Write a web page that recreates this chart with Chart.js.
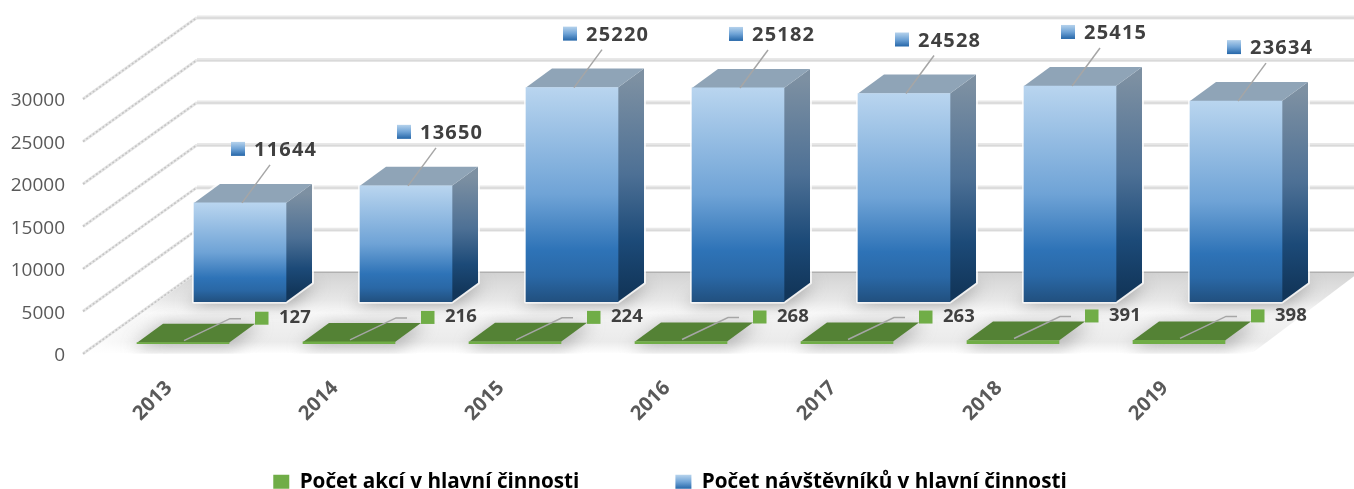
<!DOCTYPE html>
<html><head><meta charset="utf-8">
<style>html,body{margin:0;padding:0;background:#fff}canvas{display:block}</style>
<script src="https://cdn.jsdelivr.net/npm/chart.js@4/dist/chart.umd.min.js"></script>
</head><body>
<canvas id="c" width="1354" height="489"></canvas>
<script>
const years = [2013, 2014, 2015, 2016, 2017, 2018, 2019];
const visitors = [11644, 13650, 25220, 25182, 24528, 25415, 23634];
const events = [127, 216, 224, 268, 263, 391, 398];
const yTicks = [0, 5000, 10000, 15000, 20000, 25000, 30000];
const seriesEvents = 'Počet akcí v hlavní činnosti';
const seriesVisitors = 'Počet návštěvníků v hlavní činnosti';

const W = 1354, H = 489, LEFT = 83, AREA_BOTTOM = 374;
const STEP = 166, K = 254.5 / 30000;
const DX = 26, DY = -19, BACK_DX = 114, BACK_DY = -81.5;
const FONT = '"Open Sans", sans-serif';

const xRange = px0 => ({ min: 2013 - (px0 - LEFT) / STEP, max: 2013 + (W - px0) / STEP });
const yRange = zero => ({ min: -(AREA_BOTTOM - zero) / K, max: zero / K });

function poly(ctx, pts) {
  ctx.beginPath();
  pts.forEach((p, i) => i ? ctx.lineTo(p[0], p[1]) : ctx.moveTo(p[0], p[1]));
  ctx.closePath();
}
function grad(ctx, x0, y0, x1, y1, stops) {
  const g = ctx.createLinearGradient(x0, y0, x1, y1);
  stops.forEach(s => g.addColorStop(s[0], s[1]));
  return g;
}
const FRONT_STOPS = [[0, '#b9d5ef'], [0.5, '#6fa3d6'], [0.76, '#2e73b7'], [0.88, '#2a68a6'], [1, '#21507f']];
const SIDE_STOPS = [[0, '#7d90a2'], [0.45, '#4d7095'], [0.76, '#1c4a78'], [1, '#12365a']];

const scene = {
  id: 'scene3d',
  afterLayout(chart) {
    const x = chart.scales.x;
    x.bottom = H; x.height = H - x.top;
    chart.legend.left -= 7; chart.legend.right -= 7;
    chart.legend.top += 1; chart.legend.bottom += 1;
  },
  beforeDatasetsDraw(chart) {
    const ctx = chart.ctx, y = chart.scales.y;
    const blue = chart.getDatasetMeta(1).data, green = chart.getDatasetMeta(0).data;
    ctx.save();
    // walls
    yTicks.forEach(v => {
      const py = y.getPixelForValue(v);
      ctx.lineCap = 'butt';
      ctx.setLineDash([]);
      ctx.strokeStyle = '#e6e6e6'; ctx.lineWidth = 3;
      ctx.beginPath(); ctx.moveTo(LEFT, py); ctx.lineTo(LEFT + BACK_DX, py + BACK_DY); ctx.stroke();
      ctx.strokeStyle = '#c4c4c4'; ctx.lineWidth = 1.6; ctx.setLineDash([2, 2]);
      ctx.beginPath(); ctx.moveTo(LEFT, py); ctx.lineTo(LEFT + BACK_DX, py + BACK_DY); ctx.stroke();
      ctx.setLineDash([]);
      if (v !== 0) {
        ctx.strokeStyle = '#e8e8e8'; ctx.lineWidth = 4;
        ctx.beginPath(); ctx.moveTo(LEFT + BACK_DX, py + BACK_DY); ctx.lineTo(W, py + BACK_DY); ctx.stroke();
        ctx.strokeStyle = '#d9d9d9'; ctx.lineWidth = 1.5;
        ctx.beginPath(); ctx.moveTo(LEFT + BACK_DX, py + BACK_DY + 0.5); ctx.lineTo(W, py + BACK_DY + 0.5); ctx.stroke();
      }
    });
    // floor
    const y0 = y.getPixelForValue(0), yb = y0 + BACK_DY;
    ctx.save();
    poly(ctx, [[LEFT + 3, y0], [LEFT + BACK_DX + 2, yb], [W, yb], [W, yb + 4], [W - 100, y0 - 2], [W - 110, y0]]);
    ctx.clip();
    ctx.fillStyle = grad(ctx, 0, yb, 0, y0, [[0, '#d2d2d2'], [0.15, '#dcdcdc'], [0.35, '#e8e8e8'], [0.5, '#f8f8f8'], [0.62, '#f0f0f0'], [0.85, '#ebebeb'], [1, '#ffffff']]);
    ctx.fillRect(0, yb, W, y0 - yb);
    ctx.fillStyle = grad(ctx, LEFT, 0, LEFT + 90, 0, [[0, 'rgba(255,255,255,1)'], [1, 'rgba(255,255,255,0)']]);
    ctx.fillRect(LEFT, yb, 90, y0 - yb);
    ctx.filter = 'blur(8px)';
    ctx.fillStyle = 'rgba(120,120,120,0.6)';
    blue.forEach(b => {
      const p = b.getProps(['x', 'base', 'width'], true), l = p.x - p.width / 2, r = p.x + p.width / 2;
      poly(ctx, [[l - 8, p.base + 3], [r + 4, p.base + 3], [r + DX + 6, p.base + DY], [l + DX, p.base + DY]]);
      ctx.fill();
    });
    ctx.fillStyle = 'rgba(130,130,130,0.5)';
    green.forEach(b => {
      const p = b.getProps(['x', 'base', 'width'], true), l = p.x - p.width / 2, r = p.x + p.width / 2;
      poly(ctx, [[l - 4, p.base + 4], [r + 4, p.base + 4], [r + DX + 6, p.base + DY], [l + DX, p.base + DY]]);
      ctx.fill();
    });
    ctx.filter = 'none';
    ctx.restore();
    ctx.strokeStyle = '#b0b0b0'; ctx.lineWidth = 1.5;
    ctx.beginPath(); ctx.moveTo(LEFT + BACK_DX, yb); ctx.lineTo(W, yb); ctx.stroke();
    // blue bars: glow, side and top
    blue.forEach(b => {
      const p = b.getProps(['x', 'y', 'base', 'width'], true), l = p.x - p.width / 2, r = p.x + p.width / 2;
      ctx.strokeStyle = 'rgba(255,255,255,0.75)'; ctx.lineWidth = 4; ctx.lineJoin = 'round';
      poly(ctx, [[l, p.y], [l + DX, p.y + DY], [r + DX, p.y + DY], [r + DX, p.base + DY], [r, p.base], [l, p.base]]);
      ctx.stroke();
      ctx.fillStyle = grad(ctx, 0, p.y + DY / 2, 0, p.base + DY / 2, SIDE_STOPS);
      poly(ctx, [[r, p.y], [r + DX, p.y + DY], [r + DX, p.base + DY], [r, p.base]]);
      ctx.fill();
      ctx.fillStyle = '#8fa4b7';
      poly(ctx, [[l, p.y], [l + DX, p.y + DY], [r + DX, p.y + DY], [r, p.y]]);
      ctx.fill();
    });
    // green bars: top face
    green.forEach(b => {
      const p = b.getProps(['x', 'y', 'width'], true), l = p.x - p.width / 2, r = p.x + p.width / 2;
      ctx.fillStyle = '#548235';
      poly(ctx, [[l, p.y], [l + DX, p.y + DY], [r + DX, p.y + DY], [r, p.y]]);
      ctx.fill();
    });
    ctx.restore();
  },
  afterDatasetsDraw(chart) {
    const ctx = chart.ctx;
    ctx.save();
    ctx.font = 'bold 20px ' + FONT;
    ctx.textBaseline = 'middle';
    ctx.textAlign = 'left';
    ctx.letterSpacing = '1.2px';
    chart.getDatasetMeta(1).data.forEach((b, i) => {
      const p = b.getProps(['x', 'y'], true);
      ctx.strokeStyle = '#a6a6a6'; ctx.lineWidth = 1.5;
      ctx.beginPath(); ctx.moveTo(p.x + 2, p.y); ctx.lineTo(p.x + 30, p.y - 38); ctx.stroke();
      const ky = p.y - 61;
      ctx.fillStyle = grad(ctx, 0, ky, 0, ky + 14, [[0, '#b5d2ec'], [0.5, '#6fa3d6'], [1, '#2566a8']]);
      ctx.fillRect(p.x - 9, ky, 14, 14);
      ctx.fillStyle = '#404040';
      ctx.fillText(String(visitors[i]), p.x + 14, p.y - 52.5);
    });
    ctx.font = 'bold 18.5px ' + FONT;
    ctx.letterSpacing = '0px';
    chart.getDatasetMeta(0).data.forEach((b, i) => {
      const p = b.getProps(['x', 'y'], true);
      ctx.strokeStyle = '#a6a6a6'; ctx.lineWidth = 1.5;
      ctx.beginPath(); ctx.moveTo(p.x + 1, p.y - 2); ctx.lineTo(p.x + 47, p.y - 24); ctx.lineTo(p.x + 58, p.y - 24); ctx.stroke();
      ctx.fillStyle = '#70ad47';
      ctx.fillRect(p.x + 72, p.y - 31, 13.5, 13);
      ctx.fillStyle = '#404040';
      ctx.fillText(String(events[i]), p.x + 96, p.y - 25);
    });
    ctx.restore();
  }
};

new Chart(document.getElementById('c'), {
  type: 'bar',
  data: {
    datasets: [
      {
        label: seriesEvents,
        data: years.map((yr, i) => ({ x: yr, y: events[i] })),
        xAxisID: 'xG', yAxisID: 'yG',
        backgroundColor: '#70ad47', borderWidth: 0,
        barThickness: 92, grouped: false
      },
      {
        label: seriesVisitors,
        data: years.map((yr, i) => ({ x: yr, y: visitors[i] })),
        xAxisID: 'xB', yAxisID: 'yB',
        backgroundColor: c => {
          if (!c.raw) return '#2e73b7';
          const top = c.chart.scales.yB.getPixelForValue(c.raw.y), base = c.chart.scales.yB.getPixelForValue(0);
          return grad(c.chart.ctx, 0, top, 0, base, FRONT_STOPS);
        },
        borderWidth: 0,
        barThickness: 92, grouped: false
      }
    ]
  },
  plugins: [scene],
  options: {
    responsive: false,
    animation: false,
    layout: { padding: { top: 0, left: 0, right: 0, bottom: -12 } },
    scales: {
      x: {
        type: 'linear', offset: false, position: 'bottom', ...xRange(169),
        grid: { display: false, drawTicks: false }, border: { display: false },
        afterFit: s => { s.height = 0; s.paddingLeft = 0; s.paddingRight = 0; },
        afterBuildTicks: s => { s.ticks = years.map(v => ({ value: v })); },
        ticks: {
          autoSkip: false, minRotation: 45, maxRotation: 45, padding: 2,
          color: '#595959', font: { family: FONT, size: 20, weight: 'bold' },
          callback: v => String(v)
        }
      },
      xG: { type: 'linear', offset: false, display: false, position: 'bottom', ...xRange(183) },
      xB: { type: 'linear', offset: false, display: false, position: 'bottom', ...xRange(240) },
      y: {
        type: 'linear', position: 'left', ...yRange(353.5),
        grid: { display: false, drawTicks: false }, border: { display: false },
        afterFit: s => { s.width = LEFT; s.paddingTop = 0; s.paddingBottom = 0; },
        afterBuildTicks: s => { s.ticks = yTicks.map(v => ({ value: v })); },
        ticks: {
          padding: 18, autoSkip: false, color: '#595959', labelOffset: 2,
          font: { family: FONT, size: 19 }, callback: v => String(v)
        }
      },
      yG: { type: 'linear', display: false, position: 'left', ...yRange(343.5) },
      yB: { type: 'linear', display: false, position: 'left', ...yRange(301.5) }
    },
    plugins: {
      tooltip: { enabled: false },
      title: { display: false },
      legend: {
        display: true, position: 'bottom',
        labels: {
          padding: 96, boxWidth: 16, boxHeight: 14,
          color: '#595959', font: { family: FONT, size: 20.7, weight: 'bold' },
          generateLabels: chart => chart.data.datasets.map((d, i) => ({
            text: d.label, datasetIndex: i, lineWidth: 0, strokeStyle: 'transparent',
            fillStyle: i === 0 ? '#70ad47' : grad(chart.ctx, 0, 475, 0, 489, [[0, '#b5d2ec'], [0.5, '#6fa3d6'], [1, '#2566a8']])
          }))
        }
      }
    }
  }
});
</script>
</body></html>
